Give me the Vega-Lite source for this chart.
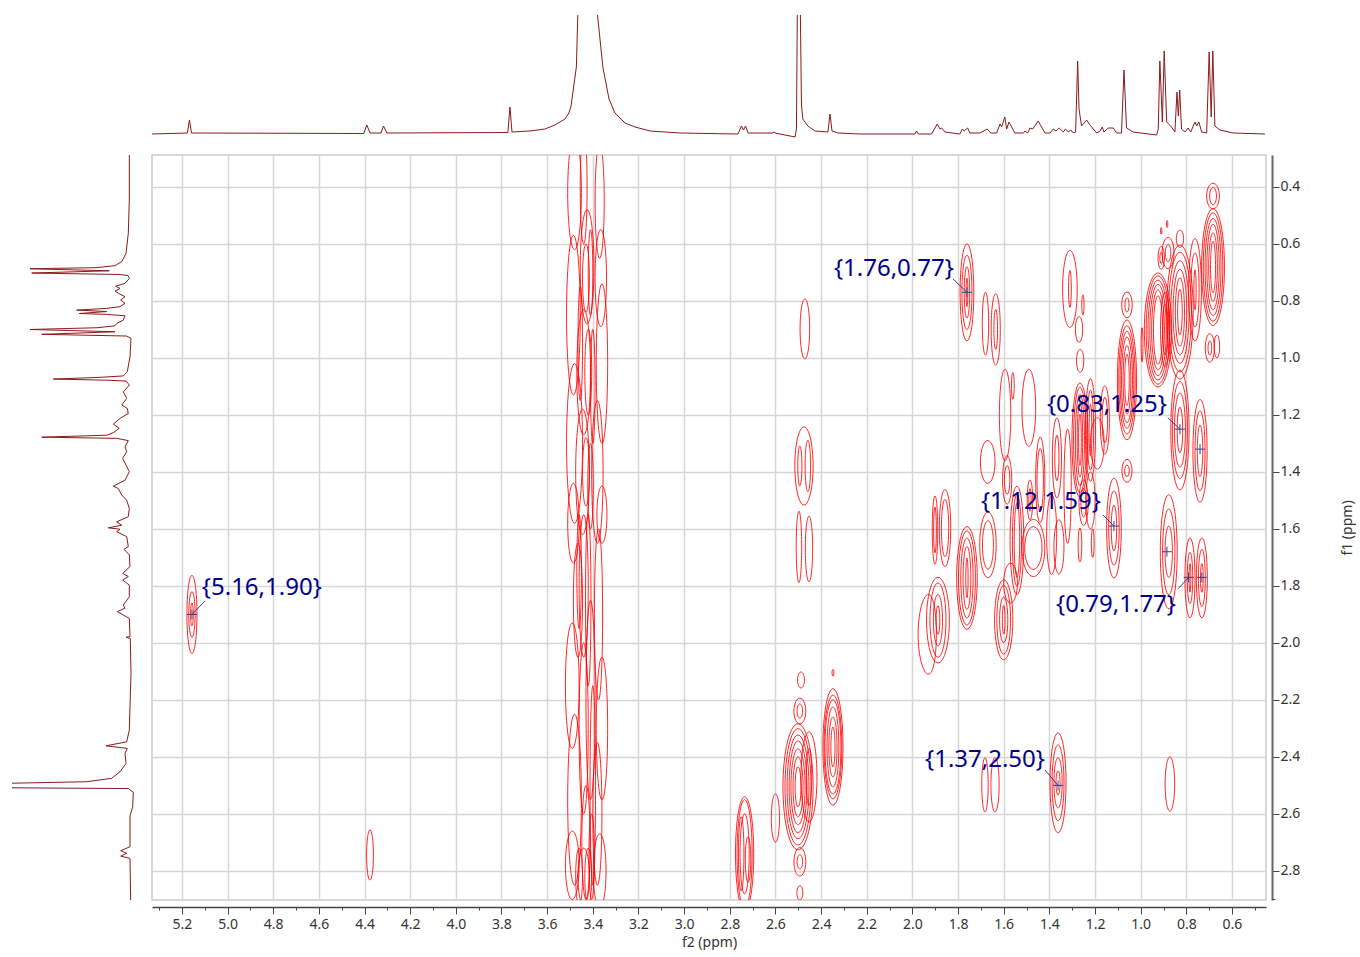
{"$schema":"https://vega.github.io/schema/vega-lite/v6.json","padding":{"left":12,"top":15,"right":0,"bottom":0},"background":"white","config":{"view":{"stroke":null},"font":"Noto Sans"},"spacing":0,"bounds":"flush","datasets":{"contours":[
{"g":1,"f2":5.156,"f1":1.763},{"g":1,"f2":5.134,"f1":1.9},{"g":1,"f2":5.156,"f1":2.037},{"g":1,"f2":5.178,"f1":1.9},
{"g":2,"f2":5.156,"f1":1.82},{"g":2,"f2":5.142,"f1":1.9},{"g":2,"f2":5.156,"f1":1.98},{"g":2,"f2":5.17,"f1":1.9},
{"g":3,"f2":5.156,"f1":1.86},{"g":3,"f2":5.15,"f1":1.9},{"g":3,"f2":5.156,"f1":1.94},{"g":3,"f2":5.162,"f1":1.9},
{"g":4,"f2":4.376,"f1":2.656},{"g":4,"f2":4.361,"f1":2.744},{"g":4,"f2":4.376,"f1":2.832},{"g":4,"f2":4.391,"f1":2.744},
{"g":5,"f2":2.471,"f1":0.793},{"g":5,"f2":2.45,"f1":0.898},{"g":5,"f2":2.471,"f1":1.003},{"g":5,"f2":2.492,"f1":0.898},
{"g":6,"f2":2.475,"f1":1.242},{"g":6,"f2":2.435,"f1":1.379},{"g":6,"f2":2.475,"f1":1.516},{"g":6,"f2":2.515,"f1":1.379},
{"g":7,"f2":2.493,"f1":1.309},{"g":7,"f2":2.484,"f1":1.379},{"g":7,"f2":2.493,"f1":1.449},{"g":7,"f2":2.502,"f1":1.379},
{"g":8,"f2":2.458,"f1":1.289},{"g":8,"f2":2.446,"f1":1.379},{"g":8,"f2":2.458,"f1":1.469},{"g":8,"f2":2.47,"f1":1.379},
{"g":9,"f2":2.497,"f1":1.538},{"g":9,"f2":2.485,"f1":1.663},{"g":9,"f2":2.497,"f1":1.788},{"g":9,"f2":2.509,"f1":1.663},
{"g":10,"f2":2.453,"f1":1.555},{"g":10,"f2":2.437,"f1":1.67},{"g":10,"f2":2.453,"f1":1.785},{"g":10,"f2":2.469,"f1":1.67},
{"g":11,"f2":2.488,"f1":2.102},{"g":11,"f2":2.473,"f1":2.13},{"g":11,"f2":2.488,"f1":2.158},{"g":11,"f2":2.503,"f1":2.13},
{"g":12,"f2":2.493,"f1":2.194},{"g":12,"f2":2.467,"f1":2.239},{"g":12,"f2":2.493,"f1":2.284},{"g":12,"f2":2.519,"f1":2.239},
{"g":13,"f2":2.493,"f1":2.214},{"g":13,"f2":2.481,"f1":2.239},{"g":13,"f2":2.493,"f1":2.264},{"g":13,"f2":2.505,"f1":2.239},
{"g":14,"f2":2.501,"f1":2.284},{"g":14,"f2":2.435,"f1":2.505},{"g":14,"f2":2.501,"f1":2.726},{"g":14,"f2":2.567,"f1":2.505},
{"g":15,"f2":2.501,"f1":2.301},{"g":15,"f2":2.444,"f1":2.505},{"g":15,"f2":2.501,"f1":2.709},{"g":15,"f2":2.558,"f1":2.505},
{"g":16,"f2":2.501,"f1":2.323},{"g":16,"f2":2.453,"f1":2.505},{"g":16,"f2":2.501,"f1":2.687},{"g":16,"f2":2.549,"f1":2.505},
{"g":17,"f2":2.501,"f1":2.344},{"g":17,"f2":2.462,"f1":2.505},{"g":17,"f2":2.501,"f1":2.666},{"g":17,"f2":2.54,"f1":2.505},
{"g":18,"f2":2.501,"f1":2.372},{"g":18,"f2":2.47,"f1":2.505},{"g":18,"f2":2.501,"f1":2.638},{"g":18,"f2":2.532,"f1":2.505},
{"g":19,"f2":2.501,"f1":2.4},{"g":19,"f2":2.479,"f1":2.505},{"g":19,"f2":2.501,"f1":2.61},{"g":19,"f2":2.523,"f1":2.505},
{"g":20,"f2":2.501,"f1":2.435},{"g":20,"f2":2.488,"f1":2.505},{"g":20,"f2":2.501,"f1":2.575},{"g":20,"f2":2.514,"f1":2.505},
{"g":21,"f2":2.453,"f1":2.312},{"g":21,"f2":2.418,"f1":2.47},{"g":21,"f2":2.453,"f1":2.628},{"g":21,"f2":2.488,"f1":2.47},
{"g":22,"f2":2.453,"f1":2.37},{"g":22,"f2":2.441,"f1":2.47},{"g":22,"f2":2.453,"f1":2.57},{"g":22,"f2":2.465,"f1":2.47},
{"g":23,"f2":2.493,"f1":2.718},{"g":23,"f2":2.467,"f1":2.768},{"g":23,"f2":2.493,"f1":2.818},{"g":23,"f2":2.519,"f1":2.768},
{"g":24,"f2":2.493,"f1":2.743},{"g":24,"f2":2.481,"f1":2.768},{"g":24,"f2":2.493,"f1":2.793},{"g":24,"f2":2.505,"f1":2.768},
{"g":25,"f2":2.493,"f1":2.852},{"g":25,"f2":2.48,"f1":2.877},{"g":25,"f2":2.493,"f1":2.902},{"g":25,"f2":2.506,"f1":2.877},
{"g":26,"f2":2.348,"f1":2.161},{"g":26,"f2":2.304,"f1":2.365},{"g":26,"f2":2.348,"f1":2.569},{"g":26,"f2":2.392,"f1":2.365},
{"g":27,"f2":2.348,"f1":2.183},{"g":27,"f2":2.309,"f1":2.365},{"g":27,"f2":2.348,"f1":2.547},{"g":27,"f2":2.387,"f1":2.365},
{"g":28,"f2":2.348,"f1":2.2},{"g":28,"f2":2.313,"f1":2.365},{"g":28,"f2":2.348,"f1":2.53},{"g":28,"f2":2.383,"f1":2.365},
{"g":29,"f2":2.348,"f1":2.225},{"g":29,"f2":2.322,"f1":2.365},{"g":29,"f2":2.348,"f1":2.505},{"g":29,"f2":2.374,"f1":2.365},
{"g":30,"f2":2.348,"f1":2.26},{"g":30,"f2":2.33,"f1":2.365},{"g":30,"f2":2.348,"f1":2.47},{"g":30,"f2":2.366,"f1":2.365},
{"g":31,"f2":2.348,"f1":2.295},{"g":31,"f2":2.339,"f1":2.365},{"g":31,"f2":2.348,"f1":2.435},{"g":31,"f2":2.357,"f1":2.365},
{"g":32,"f2":2.348,"f1":2.093},{"g":32,"f2":2.344,"f1":2.105},{"g":32,"f2":2.348,"f1":2.117},{"g":32,"f2":2.352,"f1":2.105},
{"g":33,"f2":2.6,"f1":2.529},{"g":33,"f2":2.582,"f1":2.614},{"g":33,"f2":2.6,"f1":2.699},{"g":33,"f2":2.618,"f1":2.614},
{"g":34,"f2":2.735,"f1":2.54},{"g":34,"f2":2.695,"f1":2.74},{"g":34,"f2":2.735,"f1":2.94},{"g":34,"f2":2.775,"f1":2.74},
{"g":35,"f2":2.735,"f1":2.55},{"g":35,"f2":2.702,"f1":2.74},{"g":35,"f2":2.735,"f1":2.93},{"g":35,"f2":2.768,"f1":2.74},
{"g":36,"f2":2.735,"f1":2.6},{"g":36,"f2":2.715,"f1":2.74},{"g":36,"f2":2.735,"f1":2.88},{"g":36,"f2":2.755,"f1":2.74},
{"g":37,"f2":2.72,"f1":2.68},{"g":37,"f2":2.708,"f1":2.76},{"g":37,"f2":2.72,"f1":2.84},{"g":37,"f2":2.732,"f1":2.76},
{"g":38,"f2":2.75,"f1":2.61},{"g":38,"f2":2.738,"f1":2.74},{"g":38,"f2":2.75,"f1":2.87},{"g":38,"f2":2.762,"f1":2.74},
{"g":39,"f2":1.362,"f1":2.316},{"g":39,"f2":1.327,"f1":2.491},{"g":39,"f2":1.362,"f1":2.666},{"g":39,"f2":1.397,"f1":2.491},
{"g":40,"f2":1.362,"f1":2.358},{"g":40,"f2":1.336,"f1":2.491},{"g":40,"f2":1.362,"f1":2.624},{"g":40,"f2":1.388,"f1":2.491},
{"g":41,"f2":1.362,"f1":2.403},{"g":41,"f2":1.344,"f1":2.491},{"g":41,"f2":1.362,"f1":2.579},{"g":41,"f2":1.38,"f1":2.491},
{"g":42,"f2":1.362,"f1":2.449},{"g":42,"f2":1.353,"f1":2.491},{"g":42,"f2":1.362,"f1":2.533},{"g":42,"f2":1.371,"f1":2.491},
{"g":43,"f2":1.682,"f1":2.403},{"g":43,"f2":1.668,"f1":2.498},{"g":43,"f2":1.682,"f1":2.593},{"g":43,"f2":1.696,"f1":2.498},
{"g":44,"f2":1.638,"f1":2.403},{"g":44,"f2":1.62,"f1":2.498},{"g":44,"f2":1.638,"f1":2.593},{"g":44,"f2":1.656,"f1":2.498},
{"g":45,"f2":0.872,"f1":2.4},{"g":45,"f2":0.851,"f1":2.495},{"g":45,"f2":0.872,"f1":2.59},{"g":45,"f2":0.893,"f1":2.495},
{"g":46,"f2":0.877,"f1":1.48},{"g":46,"f2":0.84,"f1":1.68},{"g":46,"f2":0.877,"f1":1.88},{"g":46,"f2":0.914,"f1":1.68},
{"g":47,"f2":0.877,"f1":1.53},{"g":47,"f2":0.85,"f1":1.68},{"g":47,"f2":0.877,"f1":1.83},{"g":47,"f2":0.904,"f1":1.68},
{"g":48,"f2":0.877,"f1":1.59},{"g":48,"f2":0.861,"f1":1.68},{"g":48,"f2":0.877,"f1":1.77},{"g":48,"f2":0.893,"f1":1.68},
{"g":49,"f2":0.784,"f1":1.632},{"g":49,"f2":0.762,"f1":1.772},{"g":49,"f2":0.784,"f1":1.912},{"g":49,"f2":0.806,"f1":1.772},
{"g":50,"f2":0.784,"f1":1.682},{"g":50,"f2":0.772,"f1":1.772},{"g":50,"f2":0.784,"f1":1.862},{"g":50,"f2":0.796,"f1":1.772},
{"g":51,"f2":0.784,"f1":1.722},{"g":51,"f2":0.78,"f1":1.772},{"g":51,"f2":0.784,"f1":1.822},{"g":51,"f2":0.788,"f1":1.772},
{"g":52,"f2":0.732,"f1":1.632},{"g":52,"f2":0.708,"f1":1.772},{"g":52,"f2":0.732,"f1":1.912},{"g":52,"f2":0.756,"f1":1.772},
{"g":53,"f2":0.732,"f1":1.672},{"g":53,"f2":0.717,"f1":1.772},{"g":53,"f2":0.732,"f1":1.872},{"g":53,"f2":0.747,"f1":1.772},
{"g":54,"f2":0.732,"f1":1.722},{"g":54,"f2":0.726,"f1":1.772},{"g":54,"f2":0.732,"f1":1.822},{"g":54,"f2":0.738,"f1":1.772},
{"g":55,"f2":0.74,"f1":1.146},{"g":55,"f2":0.709,"f1":1.326},{"g":55,"f2":0.74,"f1":1.506},{"g":55,"f2":0.771,"f1":1.326},
{"g":56,"f2":0.74,"f1":1.186},{"g":56,"f2":0.718,"f1":1.326},{"g":56,"f2":0.74,"f1":1.466},{"g":56,"f2":0.762,"f1":1.326},
{"g":57,"f2":0.74,"f1":1.236},{"g":57,"f2":0.728,"f1":1.326},{"g":57,"f2":0.74,"f1":1.416},{"g":57,"f2":0.752,"f1":1.326},
{"g":58,"f2":0.828,"f1":1.043},{"g":58,"f2":0.788,"f1":1.253},{"g":58,"f2":0.828,"f1":1.463},{"g":58,"f2":0.868,"f1":1.253},
{"g":59,"f2":0.828,"f1":1.083},{"g":59,"f2":0.795,"f1":1.253},{"g":59,"f2":0.828,"f1":1.423},{"g":59,"f2":0.861,"f1":1.253},
{"g":60,"f2":0.828,"f1":1.123},{"g":60,"f2":0.804,"f1":1.253},{"g":60,"f2":0.828,"f1":1.383},{"g":60,"f2":0.852,"f1":1.253},
{"g":61,"f2":0.828,"f1":1.173},{"g":61,"f2":0.816,"f1":1.253},{"g":61,"f2":0.828,"f1":1.333},{"g":61,"f2":0.84,"f1":1.253},
{"g":62,"f2":1.117,"f1":1.422},{"g":62,"f2":1.085,"f1":1.597},{"g":62,"f2":1.117,"f1":1.772},{"g":62,"f2":1.149,"f1":1.597},
{"g":63,"f2":1.117,"f1":1.467},{"g":63,"f2":1.094,"f1":1.597},{"g":63,"f2":1.117,"f1":1.727},{"g":63,"f2":1.14,"f1":1.597},
{"g":64,"f2":1.117,"f1":1.517},{"g":64,"f2":1.105,"f1":1.597},{"g":64,"f2":1.117,"f1":1.677},{"g":64,"f2":1.129,"f1":1.597},
{"g":66,"f2":1.06,"f1":0.867},{"g":66,"f2":1.018,"f1":1.077},{"g":66,"f2":1.06,"f1":1.287},{"g":66,"f2":1.102,"f1":1.077},
{"g":67,"f2":1.06,"f1":0.887},{"g":67,"f2":1.024,"f1":1.077},{"g":67,"f2":1.06,"f1":1.267},{"g":67,"f2":1.096,"f1":1.077},
{"g":68,"f2":1.06,"f1":0.907},{"g":68,"f2":1.03,"f1":1.077},{"g":68,"f2":1.06,"f1":1.247},{"g":68,"f2":1.09,"f1":1.077},
{"g":69,"f2":1.06,"f1":0.927},{"g":69,"f2":1.036,"f1":1.077},{"g":69,"f2":1.06,"f1":1.227},{"g":69,"f2":1.084,"f1":1.077},
{"g":70,"f2":1.06,"f1":0.957},{"g":70,"f2":1.043,"f1":1.077},{"g":70,"f2":1.06,"f1":1.197},{"g":70,"f2":1.077,"f1":1.077},
{"g":71,"f2":1.06,"f1":0.987},{"g":71,"f2":1.05,"f1":1.077},{"g":71,"f2":1.06,"f1":1.167},{"g":71,"f2":1.07,"f1":1.077},
{"g":73,"f2":1.06,"f1":1.356},{"g":73,"f2":1.038,"f1":1.396},{"g":73,"f2":1.06,"f1":1.436},{"g":73,"f2":1.082,"f1":1.396},
{"g":74,"f2":1.06,"f1":1.376},{"g":74,"f2":1.05,"f1":1.396},{"g":74,"f2":1.06,"f1":1.416},{"g":74,"f2":1.07,"f1":1.396},
{"g":75,"f2":1.06,"f1":0.769},{"g":75,"f2":1.037,"f1":0.814},{"g":75,"f2":1.06,"f1":0.859},{"g":75,"f2":1.083,"f1":0.814},
{"g":76,"f2":1.06,"f1":0.789},{"g":76,"f2":1.051,"f1":0.814},{"g":76,"f2":1.06,"f1":0.839},{"g":76,"f2":1.069,"f1":0.814},
{"g":77,"f2":0.994,"f1":0.894},{"g":77,"f2":0.99,"f1":0.954},{"g":77,"f2":0.994,"f1":1.014},{"g":77,"f2":0.998,"f1":0.954},
{"g":78,"f2":1.31,"f1":0.623},{"g":78,"f2":1.278,"f1":0.758},{"g":78,"f2":1.31,"f1":0.893},{"g":78,"f2":1.342,"f1":0.758},
{"g":79,"f2":1.31,"f1":0.693},{"g":79,"f2":1.304,"f1":0.758},{"g":79,"f2":1.31,"f1":0.823},{"g":79,"f2":1.316,"f1":0.758},
{"g":80,"f2":1.253,"f1":0.779},{"g":80,"f2":1.248,"f1":0.814},{"g":80,"f2":1.253,"f1":0.849},{"g":80,"f2":1.258,"f1":0.814},
{"g":81,"f2":1.27,"f1":0.855},{"g":81,"f2":1.254,"f1":0.9},{"g":81,"f2":1.27,"f1":0.945},{"g":81,"f2":1.286,"f1":0.9},
{"g":82,"f2":1.265,"f1":0.97},{"g":82,"f2":1.249,"f1":1.01},{"g":82,"f2":1.265,"f1":1.05},{"g":82,"f2":1.281,"f1":1.01},
{"g":83,"f2":0.924,"f1":0.702},{"g":83,"f2":0.864,"f1":0.902},{"g":83,"f2":0.924,"f1":1.102},{"g":83,"f2":0.984,"f1":0.902},
{"g":84,"f2":0.924,"f1":0.712},{"g":84,"f2":0.872,"f1":0.902},{"g":84,"f2":0.924,"f1":1.092},{"g":84,"f2":0.976,"f1":0.902},
{"g":85,"f2":0.924,"f1":0.727},{"g":85,"f2":0.88,"f1":0.902},{"g":85,"f2":0.924,"f1":1.077},{"g":85,"f2":0.968,"f1":0.902},
{"g":86,"f2":0.924,"f1":0.742},{"g":86,"f2":0.888,"f1":0.902},{"g":86,"f2":0.924,"f1":1.062},{"g":86,"f2":0.96,"f1":0.902},
{"g":87,"f2":0.924,"f1":0.762},{"g":87,"f2":0.896,"f1":0.902},{"g":87,"f2":0.924,"f1":1.042},{"g":87,"f2":0.952,"f1":0.902},
{"g":88,"f2":0.924,"f1":0.782},{"g":88,"f2":0.904,"f1":0.902},{"g":88,"f2":0.924,"f1":1.022},{"g":88,"f2":0.944,"f1":0.902},
{"g":89,"f2":0.893,"f1":0.77},{"g":89,"f2":0.873,"f1":0.9},{"g":89,"f2":0.893,"f1":1.03},{"g":89,"f2":0.913,"f1":0.9},
{"g":90,"f2":0.893,"f1":0.81},{"g":90,"f2":0.883,"f1":0.9},{"g":90,"f2":0.893,"f1":0.99},{"g":90,"f2":0.903,"f1":0.9},
{"g":91,"f2":0.88,"f1":0.577},{"g":91,"f2":0.854,"f1":0.632},{"g":91,"f2":0.88,"f1":0.687},{"g":91,"f2":0.906,"f1":0.632},
{"g":92,"f2":0.88,"f1":0.602},{"g":92,"f2":0.868,"f1":0.632},{"g":92,"f2":0.88,"f1":0.662},{"g":92,"f2":0.892,"f1":0.632},
{"g":93,"f2":0.91,"f1":0.609},{"g":93,"f2":0.896,"f1":0.649},{"g":93,"f2":0.91,"f1":0.689},{"g":93,"f2":0.924,"f1":0.649},
{"g":94,"f2":0.91,"f1":0.629},{"g":94,"f2":0.904,"f1":0.649},{"g":94,"f2":0.91,"f1":0.669},{"g":94,"f2":0.916,"f1":0.649},
{"g":95,"f2":0.828,"f1":0.604},{"g":95,"f2":0.77,"f1":0.839},{"g":95,"f2":0.828,"f1":1.074},{"g":95,"f2":0.886,"f1":0.839},
{"g":96,"f2":0.828,"f1":0.629},{"g":96,"f2":0.778,"f1":0.839},{"g":96,"f2":0.828,"f1":1.049},{"g":96,"f2":0.878,"f1":0.839},
{"g":97,"f2":0.828,"f1":0.659},{"g":97,"f2":0.788,"f1":0.839},{"g":97,"f2":0.828,"f1":1.019},{"g":97,"f2":0.868,"f1":0.839},
{"g":98,"f2":0.828,"f1":0.689},{"g":98,"f2":0.798,"f1":0.839},{"g":98,"f2":0.828,"f1":0.989},{"g":98,"f2":0.858,"f1":0.839},
{"g":99,"f2":0.828,"f1":0.719},{"g":99,"f2":0.808,"f1":0.839},{"g":99,"f2":0.828,"f1":0.959},{"g":99,"f2":0.848,"f1":0.839},
{"g":100,"f2":0.828,"f1":0.759},{"g":100,"f2":0.818,"f1":0.839},{"g":100,"f2":0.828,"f1":0.919},{"g":100,"f2":0.838,"f1":0.839},
{"g":101,"f2":0.828,"f1":0.552},{"g":101,"f2":0.812,"f1":0.582},{"g":101,"f2":0.828,"f1":0.612},{"g":101,"f2":0.844,"f1":0.582},
{"g":102,"f2":0.91,"f1":0.542},{"g":102,"f2":0.907,"f1":0.554},{"g":102,"f2":0.91,"f1":0.566},{"g":102,"f2":0.913,"f1":0.554},
{"g":103,"f2":0.884,"f1":0.518},{"g":103,"f2":0.881,"f1":0.53},{"g":103,"f2":0.884,"f1":0.542},{"g":103,"f2":0.887,"f1":0.53},
{"g":104,"f2":0.762,"f1":0.581},{"g":104,"f2":0.734,"f1":0.761},{"g":104,"f2":0.762,"f1":0.941},{"g":104,"f2":0.79,"f1":0.761},
{"g":105,"f2":0.762,"f1":0.631},{"g":105,"f2":0.744,"f1":0.761},{"g":105,"f2":0.762,"f1":0.891},{"g":105,"f2":0.78,"f1":0.761},
{"g":106,"f2":0.762,"f1":0.691},{"g":106,"f2":0.757,"f1":0.761},{"g":106,"f2":0.762,"f1":0.831},{"g":106,"f2":0.767,"f1":0.761},
{"g":107,"f2":0.683,"f1":0.476},{"g":107,"f2":0.633,"f1":0.681},{"g":107,"f2":0.683,"f1":0.886},{"g":107,"f2":0.733,"f1":0.681},
{"g":108,"f2":0.683,"f1":0.491},{"g":108,"f2":0.64,"f1":0.681},{"g":108,"f2":0.683,"f1":0.871},{"g":108,"f2":0.726,"f1":0.681},
{"g":109,"f2":0.683,"f1":0.511},{"g":109,"f2":0.648,"f1":0.681},{"g":109,"f2":0.683,"f1":0.851},{"g":109,"f2":0.718,"f1":0.681},
{"g":110,"f2":0.683,"f1":0.531},{"g":110,"f2":0.656,"f1":0.681},{"g":110,"f2":0.683,"f1":0.831},{"g":110,"f2":0.71,"f1":0.681},
{"g":111,"f2":0.683,"f1":0.561},{"g":111,"f2":0.664,"f1":0.681},{"g":111,"f2":0.683,"f1":0.801},{"g":111,"f2":0.702,"f1":0.681},
{"g":112,"f2":0.683,"f1":0.591},{"g":112,"f2":0.672,"f1":0.681},{"g":112,"f2":0.683,"f1":0.771},{"g":112,"f2":0.694,"f1":0.681},
{"g":113,"f2":0.683,"f1":0.387},{"g":113,"f2":0.655,"f1":0.432},{"g":113,"f2":0.683,"f1":0.477},{"g":113,"f2":0.711,"f1":0.432},
{"g":114,"f2":0.683,"f1":0.402},{"g":114,"f2":0.668,"f1":0.432},{"g":114,"f2":0.683,"f1":0.462},{"g":114,"f2":0.698,"f1":0.432},
{"g":115,"f2":0.697,"f1":0.915},{"g":115,"f2":0.677,"f1":0.965},{"g":115,"f2":0.697,"f1":1.015},{"g":115,"f2":0.717,"f1":0.965},
{"g":116,"f2":0.697,"f1":0.94},{"g":116,"f2":0.689,"f1":0.965},{"g":116,"f2":0.697,"f1":0.99},{"g":116,"f2":0.705,"f1":0.965},
{"g":117,"f2":0.666,"f1":0.92},{"g":117,"f2":0.654,"f1":0.96},{"g":117,"f2":0.666,"f1":1.0},{"g":117,"f2":0.678,"f1":0.96},
{"g":118,"f2":1.266,"f1":1.088},{"g":118,"f2":1.231,"f1":1.288},{"g":118,"f2":1.266,"f1":1.488},{"g":118,"f2":1.301,"f1":1.288},
{"g":119,"f2":1.266,"f1":1.103},{"g":119,"f2":1.238,"f1":1.288},{"g":119,"f2":1.266,"f1":1.473},{"g":119,"f2":1.294,"f1":1.288},
{"g":120,"f2":1.266,"f1":1.128},{"g":120,"f2":1.246,"f1":1.288},{"g":120,"f2":1.266,"f1":1.448},{"g":120,"f2":1.286,"f1":1.288},
{"g":121,"f2":1.266,"f1":1.158},{"g":121,"f2":1.254,"f1":1.288},{"g":121,"f2":1.266,"f1":1.418},{"g":121,"f2":1.278,"f1":1.288},
{"g":122,"f2":1.266,"f1":1.198},{"g":122,"f2":1.26,"f1":1.288},{"g":122,"f2":1.266,"f1":1.378},{"g":122,"f2":1.272,"f1":1.288},
{"g":123,"f2":1.22,"f1":1.073},{"g":123,"f2":1.198,"f1":1.253},{"g":123,"f2":1.22,"f1":1.433},{"g":123,"f2":1.242,"f1":1.253},
{"g":124,"f2":1.22,"f1":1.113},{"g":124,"f2":1.206,"f1":1.253},{"g":124,"f2":1.22,"f1":1.393},{"g":124,"f2":1.234,"f1":1.253},
{"g":125,"f2":1.22,"f1":1.163},{"g":125,"f2":1.214,"f1":1.253},{"g":125,"f2":1.22,"f1":1.343},{"g":125,"f2":1.226,"f1":1.253},
{"g":126,"f2":1.157,"f1":1.098},{"g":126,"f2":1.137,"f1":1.218},{"g":126,"f2":1.157,"f1":1.338},{"g":126,"f2":1.177,"f1":1.218},
{"g":127,"f2":1.157,"f1":1.138},{"g":127,"f2":1.145,"f1":1.218},{"g":127,"f2":1.157,"f1":1.298},{"g":127,"f2":1.169,"f1":1.218},
{"g":128,"f2":1.367,"f1":1.211},{"g":128,"f2":1.347,"f1":1.351},{"g":128,"f2":1.367,"f1":1.491},{"g":128,"f2":1.387,"f1":1.351},
{"g":129,"f2":1.367,"f1":1.271},{"g":129,"f2":1.358,"f1":1.351},{"g":129,"f2":1.367,"f1":1.431},{"g":129,"f2":1.376,"f1":1.351},
{"g":130,"f2":1.44,"f1":1.278},{"g":130,"f2":1.42,"f1":1.428},{"g":130,"f2":1.44,"f1":1.578},{"g":130,"f2":1.46,"f1":1.428},
{"g":131,"f2":1.44,"f1":1.318},{"g":131,"f2":1.426,"f1":1.428},{"g":131,"f2":1.44,"f1":1.538},{"g":131,"f2":1.454,"f1":1.428},
{"g":132,"f2":1.485,"f1":1.428},{"g":132,"f2":1.473,"f1":1.498},{"g":132,"f2":1.485,"f1":1.568},{"g":132,"f2":1.497,"f1":1.498},
{"g":133,"f2":1.485,"f1":1.458},{"g":133,"f2":1.48,"f1":1.498},{"g":133,"f2":1.485,"f1":1.538},{"g":133,"f2":1.49,"f1":1.498},
{"g":134,"f2":1.594,"f1":1.04},{"g":134,"f2":1.569,"f1":1.2},{"g":134,"f2":1.594,"f1":1.36},{"g":134,"f2":1.619,"f1":1.2},
{"g":135,"f2":1.56,"f1":1.051},{"g":135,"f2":1.554,"f1":1.098},{"g":135,"f2":1.56,"f1":1.145},{"g":135,"f2":1.566,"f1":1.098},
{"g":136,"f2":1.49,"f1":1.04},{"g":136,"f2":1.46,"f1":1.175},{"g":136,"f2":1.49,"f1":1.31},{"g":136,"f2":1.52,"f1":1.175},
{"g":137,"f2":1.67,"f1":1.29},{"g":137,"f2":1.638,"f1":1.365},{"g":137,"f2":1.67,"f1":1.44},{"g":137,"f2":1.702,"f1":1.365},
{"g":138,"f2":1.585,"f1":1.343},{"g":138,"f2":1.565,"f1":1.428},{"g":138,"f2":1.585,"f1":1.513},{"g":138,"f2":1.605,"f1":1.428},
{"g":139,"f2":1.585,"f1":1.378},{"g":139,"f2":1.573,"f1":1.428},{"g":139,"f2":1.585,"f1":1.478},{"g":139,"f2":1.597,"f1":1.428},
{"g":140,"f2":1.669,"f1":1.541},{"g":140,"f2":1.633,"f1":1.656},{"g":140,"f2":1.669,"f1":1.771},{"g":140,"f2":1.705,"f1":1.656},
{"g":141,"f2":1.669,"f1":1.571},{"g":141,"f2":1.645,"f1":1.656},{"g":141,"f2":1.669,"f1":1.741},{"g":141,"f2":1.693,"f1":1.656},
{"g":142,"f2":1.542,"f1":1.45},{"g":142,"f2":1.512,"f1":1.64},{"g":142,"f2":1.542,"f1":1.83},{"g":142,"f2":1.572,"f1":1.64},
{"g":143,"f2":1.542,"f1":1.48},{"g":143,"f2":1.522,"f1":1.64},{"g":143,"f2":1.542,"f1":1.8},{"g":143,"f2":1.562,"f1":1.64},
{"g":144,"f2":1.542,"f1":1.51},{"g":144,"f2":1.53,"f1":1.64},{"g":144,"f2":1.542,"f1":1.77},{"g":144,"f2":1.554,"f1":1.64},
{"g":145,"f2":1.47,"f1":1.567},{"g":145,"f2":1.42,"f1":1.667},{"g":145,"f2":1.47,"f1":1.767},{"g":145,"f2":1.52,"f1":1.667},
{"g":146,"f2":1.47,"f1":1.592},{"g":146,"f2":1.432,"f1":1.667},{"g":146,"f2":1.47,"f1":1.742},{"g":146,"f2":1.508,"f1":1.667},
{"g":147,"f2":1.358,"f1":1.568},{"g":147,"f2":1.336,"f1":1.663},{"g":147,"f2":1.358,"f1":1.758},{"g":147,"f2":1.38,"f1":1.663},
{"g":148,"f2":1.266,"f1":1.596},{"g":148,"f2":1.258,"f1":1.656},{"g":148,"f2":1.266,"f1":1.716},{"g":148,"f2":1.274,"f1":1.656},
{"g":149,"f2":1.21,"f1":1.6},{"g":149,"f2":1.204,"f1":1.65},{"g":149,"f2":1.21,"f1":1.7},{"g":149,"f2":1.216,"f1":1.65},
{"g":150,"f2":1.25,"f1":1.428},{"g":150,"f2":1.23,"f1":1.508},{"g":150,"f2":1.25,"f1":1.588},{"g":150,"f2":1.27,"f1":1.508},
{"g":151,"f2":1.25,"f1":1.458},{"g":151,"f2":1.238,"f1":1.508},{"g":151,"f2":1.25,"f1":1.558},{"g":151,"f2":1.262,"f1":1.508},
{"g":152,"f2":1.901,"f1":1.484},{"g":152,"f2":1.889,"f1":1.604},{"g":152,"f2":1.901,"f1":1.724},{"g":152,"f2":1.913,"f1":1.604},
{"g":153,"f2":1.901,"f1":1.524},{"g":153,"f2":1.895,"f1":1.604},{"g":153,"f2":1.901,"f1":1.684},{"g":153,"f2":1.907,"f1":1.604},
{"g":154,"f2":1.857,"f1":1.462},{"g":154,"f2":1.832,"f1":1.597},{"g":154,"f2":1.857,"f1":1.732},{"g":154,"f2":1.882,"f1":1.597},
{"g":155,"f2":1.857,"f1":1.497},{"g":155,"f2":1.841,"f1":1.597},{"g":155,"f2":1.857,"f1":1.697},{"g":155,"f2":1.873,"f1":1.597},
{"g":156,"f2":1.761,"f1":1.592},{"g":156,"f2":1.716,"f1":1.772},{"g":156,"f2":1.761,"f1":1.952},{"g":156,"f2":1.806,"f1":1.772},
{"g":157,"f2":1.761,"f1":1.607},{"g":157,"f2":1.724,"f1":1.772},{"g":157,"f2":1.761,"f1":1.937},{"g":157,"f2":1.798,"f1":1.772},
{"g":158,"f2":1.761,"f1":1.632},{"g":158,"f2":1.734,"f1":1.772},{"g":158,"f2":1.761,"f1":1.912},{"g":158,"f2":1.788,"f1":1.772},
{"g":159,"f2":1.761,"f1":1.662},{"g":159,"f2":1.744,"f1":1.772},{"g":159,"f2":1.761,"f1":1.882},{"g":159,"f2":1.778,"f1":1.772},
{"g":160,"f2":1.761,"f1":1.702},{"g":160,"f2":1.756,"f1":1.772},{"g":160,"f2":1.761,"f1":1.842},{"g":160,"f2":1.766,"f1":1.772},
{"g":161,"f2":1.93,"f1":1.83},{"g":161,"f2":1.895,"f1":1.97},{"g":161,"f2":1.93,"f1":2.11},{"g":161,"f2":1.975,"f1":1.97},
{"g":162,"f2":1.888,"f1":1.77},{"g":162,"f2":1.838,"f1":1.92},{"g":162,"f2":1.888,"f1":2.07},{"g":162,"f2":1.938,"f1":1.92},
{"g":163,"f2":1.888,"f1":1.79},{"g":163,"f2":1.853,"f1":1.92},{"g":163,"f2":1.888,"f1":2.05},{"g":163,"f2":1.923,"f1":1.92},
{"g":164,"f2":1.888,"f1":1.83},{"g":164,"f2":1.868,"f1":1.92},{"g":164,"f2":1.888,"f1":2.01},{"g":164,"f2":1.908,"f1":1.92},
{"g":165,"f2":1.888,"f1":1.87},{"g":165,"f2":1.88,"f1":1.92},{"g":165,"f2":1.888,"f1":1.97},{"g":165,"f2":1.896,"f1":1.92},
{"g":166,"f2":1.6,"f1":1.779},{"g":166,"f2":1.56,"f1":1.919},{"g":166,"f2":1.6,"f1":2.059},{"g":166,"f2":1.64,"f1":1.919},
{"g":167,"f2":1.6,"f1":1.799},{"g":167,"f2":1.57,"f1":1.919},{"g":167,"f2":1.6,"f1":2.039},{"g":167,"f2":1.63,"f1":1.919},
{"g":168,"f2":1.6,"f1":1.839},{"g":168,"f2":1.582,"f1":1.919},{"g":168,"f2":1.6,"f1":1.999},{"g":168,"f2":1.618,"f1":1.919},
{"g":169,"f2":1.6,"f1":1.869},{"g":169,"f2":1.594,"f1":1.919},{"g":169,"f2":1.6,"f1":1.969},{"g":169,"f2":1.606,"f1":1.919},
{"g":170,"f2":1.57,"f1":1.72},{"g":170,"f2":1.54,"f1":1.79},{"g":170,"f2":1.57,"f1":1.86},{"g":170,"f2":1.6,"f1":1.79},
{"g":171,"f2":3.48,"f1":0.22},{"g":171,"f2":3.45,"f1":0.42},{"g":171,"f2":3.48,"f1":0.62},{"g":171,"f2":3.51,"f1":0.42},
{"g":172,"f2":3.485,"f1":0.57},{"g":172,"f2":3.455,"f1":0.85},{"g":172,"f2":3.485,"f1":1.13},{"g":172,"f2":3.515,"f1":0.85},
{"g":173,"f2":3.48,"f1":1.02},{"g":173,"f2":3.445,"f1":1.3},{"g":173,"f2":3.48,"f1":1.58},{"g":173,"f2":3.515,"f1":1.3},
{"g":174,"f2":3.485,"f1":1.44},{"g":174,"f2":3.46,"f1":1.58},{"g":174,"f2":3.485,"f1":1.72},{"g":174,"f2":3.51,"f1":1.58},
{"g":175,"f2":3.465,"f1":1.65},{"g":175,"f2":3.445,"f1":1.85},{"g":175,"f2":3.465,"f1":2.05},{"g":175,"f2":3.485,"f1":1.85},
{"g":176,"f2":3.49,"f1":1.93},{"g":176,"f2":3.46,"f1":2.15},{"g":176,"f2":3.49,"f1":2.37},{"g":176,"f2":3.52,"f1":2.15},
{"g":177,"f2":3.48,"f1":2.25},{"g":177,"f2":3.45,"f1":2.55},{"g":177,"f2":3.48,"f1":2.85},{"g":177,"f2":3.51,"f1":2.55},
{"g":178,"f2":3.49,"f1":2.66},{"g":178,"f2":3.46,"f1":2.78},{"g":178,"f2":3.49,"f1":2.9},{"g":178,"f2":3.52,"f1":2.78},
{"g":179,"f2":3.37,"f1":0.25},{"g":179,"f2":3.35,"f1":0.45},{"g":179,"f2":3.37,"f1":0.65},{"g":179,"f2":3.39,"f1":0.45},
{"g":180,"f2":3.365,"f1":0.55},{"g":180,"f2":3.34,"f1":0.72},{"g":180,"f2":3.365,"f1":0.89},{"g":180,"f2":3.39,"f1":0.72},
{"g":181,"f2":3.36,"f1":0.74},{"g":181,"f2":3.335,"f1":1.02},{"g":181,"f2":3.36,"f1":1.3},{"g":181,"f2":3.385,"f1":1.02},
{"g":182,"f2":3.38,"f1":1.15},{"g":182,"f2":3.355,"f1":1.4},{"g":182,"f2":3.38,"f1":1.65},{"g":182,"f2":3.405,"f1":1.4},
{"g":183,"f2":3.36,"f1":1.45},{"g":183,"f2":3.338,"f1":1.55},{"g":183,"f2":3.36,"f1":1.65},{"g":183,"f2":3.382,"f1":1.55},
{"g":184,"f2":3.375,"f1":1.6},{"g":184,"f2":3.357,"f1":1.9},{"g":184,"f2":3.375,"f1":2.2},{"g":184,"f2":3.393,"f1":1.9},
{"g":185,"f2":3.36,"f1":2.05},{"g":185,"f2":3.335,"f1":2.3},{"g":185,"f2":3.36,"f1":2.55},{"g":185,"f2":3.385,"f1":2.3},
{"g":186,"f2":3.38,"f1":2.35},{"g":186,"f2":3.36,"f1":2.6},{"g":186,"f2":3.38,"f1":2.85},{"g":186,"f2":3.4,"f1":2.6},
{"g":187,"f2":3.37,"f1":2.67},{"g":187,"f2":3.342,"f1":2.8},{"g":187,"f2":3.37,"f1":2.93},{"g":187,"f2":3.398,"f1":2.8},
{"g":188,"f2":3.44,"f1":0.2},{"g":188,"f2":3.425,"f1":0.4},{"g":188,"f2":3.44,"f1":0.6},{"g":188,"f2":3.455,"f1":0.4},
{"g":189,"f2":3.425,"f1":0.48},{"g":189,"f2":3.395,"f1":0.68},{"g":189,"f2":3.425,"f1":0.88},{"g":189,"f2":3.455,"f1":0.68},
{"g":190,"f2":3.43,"f1":0.6},{"g":190,"f2":3.415,"f1":0.72},{"g":190,"f2":3.43,"f1":0.84},{"g":190,"f2":3.445,"f1":0.72},
{"g":191,"f2":3.44,"f1":0.83},{"g":191,"f2":3.41,"f1":1.05},{"g":191,"f2":3.44,"f1":1.27},{"g":191,"f2":3.47,"f1":1.05},
{"g":192,"f2":3.42,"f1":0.9},{"g":192,"f2":3.405,"f1":1.05},{"g":192,"f2":3.42,"f1":1.2},{"g":192,"f2":3.435,"f1":1.05},
{"g":193,"f2":3.445,"f1":1.18},{"g":193,"f2":3.415,"f1":1.4},{"g":193,"f2":3.445,"f1":1.62},{"g":193,"f2":3.475,"f1":1.4},
{"g":194,"f2":3.43,"f1":1.28},{"g":194,"f2":3.415,"f1":1.4},{"g":194,"f2":3.43,"f1":1.52},{"g":194,"f2":3.445,"f1":1.4},
{"g":195,"f2":3.44,"f1":1.55},{"g":195,"f2":3.42,"f1":1.8},{"g":195,"f2":3.44,"f1":2.05},{"g":195,"f2":3.46,"f1":1.8},
{"g":196,"f2":3.42,"f1":1.55},{"g":196,"f2":3.408,"f1":1.85},{"g":196,"f2":3.42,"f1":2.15},{"g":196,"f2":3.432,"f1":1.85},
{"g":197,"f2":3.44,"f1":2.0},{"g":197,"f2":3.42,"f1":2.3},{"g":197,"f2":3.44,"f1":2.6},{"g":197,"f2":3.46,"f1":2.3},
{"g":198,"f2":3.41,"f1":1.85},{"g":198,"f2":3.39,"f1":2.2},{"g":198,"f2":3.41,"f1":2.55},{"g":198,"f2":3.43,"f1":2.2},
{"g":199,"f2":3.4,"f1":2.15},{"g":199,"f2":3.388,"f1":2.5},{"g":199,"f2":3.4,"f1":2.85},{"g":199,"f2":3.412,"f1":2.5},
{"g":200,"f2":3.43,"f1":2.5},{"g":200,"f2":3.412,"f1":2.7},{"g":200,"f2":3.43,"f1":2.9},{"g":200,"f2":3.448,"f1":2.7},
{"g":201,"f2":3.44,"f1":2.72},{"g":201,"f2":3.415,"f1":2.82},{"g":201,"f2":3.44,"f1":2.92},{"g":201,"f2":3.465,"f1":2.82},
{"g":202,"f2":3.42,"f1":2.72},{"g":202,"f2":3.405,"f1":2.82},{"g":202,"f2":3.42,"f1":2.92},{"g":202,"f2":3.435,"f1":2.82},
{"g":203,"f2":3.46,"f1":2.72},{"g":203,"f2":3.445,"f1":2.82},{"g":203,"f2":3.46,"f1":2.92},{"g":203,"f2":3.475,"f1":2.82},
{"g":204,"f2":1.761,"f1":0.6},{"g":204,"f2":1.731,"f1":0.77},{"g":204,"f2":1.761,"f1":0.94},{"g":204,"f2":1.791,"f1":0.77},
{"g":205,"f2":1.761,"f1":0.64},{"g":205,"f2":1.739,"f1":0.77},{"g":205,"f2":1.761,"f1":0.9},{"g":205,"f2":1.783,"f1":0.77},
{"g":206,"f2":1.761,"f1":0.68},{"g":206,"f2":1.749,"f1":0.77},{"g":206,"f2":1.761,"f1":0.86},{"g":206,"f2":1.773,"f1":0.77},
{"g":207,"f2":1.761,"f1":0.72},{"g":207,"f2":1.757,"f1":0.77},{"g":207,"f2":1.761,"f1":0.82},{"g":207,"f2":1.765,"f1":0.77},
{"g":208,"f2":1.68,"f1":0.77},{"g":208,"f2":1.666,"f1":0.88},{"g":208,"f2":1.68,"f1":0.99},{"g":208,"f2":1.694,"f1":0.88},
{"g":209,"f2":1.635,"f1":0.775},{"g":209,"f2":1.615,"f1":0.9},{"g":209,"f2":1.635,"f1":1.025},{"g":209,"f2":1.655,"f1":0.9},
{"g":210,"f2":1.635,"f1":0.83},{"g":210,"f2":1.627,"f1":0.9},{"g":210,"f2":1.635,"f1":0.97},{"g":210,"f2":1.643,"f1":0.9},
{"g":211,"f2":3.41,"f1":0.55},{"g":211,"f2":3.4,"f1":0.7},{"g":211,"f2":3.41,"f1":0.85},{"g":211,"f2":3.42,"f1":0.7},
{"g":212,"f2":3.4,"f1":0.9},{"g":212,"f2":3.39,"f1":1.1},{"g":212,"f2":3.4,"f1":1.3},{"g":212,"f2":3.41,"f1":1.1},
{"g":213,"f2":3.41,"f1":1.3},{"g":213,"f2":3.398,"f1":1.45},{"g":213,"f2":3.41,"f1":1.6},{"g":213,"f2":3.422,"f1":1.45},
{"g":214,"f2":3.455,"f1":0.75},{"g":214,"f2":3.445,"f1":0.95},{"g":214,"f2":3.455,"f1":1.15},{"g":214,"f2":3.465,"f1":0.95},
{"g":215,"f2":3.46,"f1":1.55},{"g":215,"f2":3.45,"f1":1.75},{"g":215,"f2":3.46,"f1":1.95},{"g":215,"f2":3.47,"f1":1.75},
{"g":216,"f2":3.405,"f1":2.6},{"g":216,"f2":3.393,"f1":2.75},{"g":216,"f2":3.405,"f1":2.9},{"g":216,"f2":3.417,"f1":2.75},
{"g":217,"f2":1.19,"f1":1.21},{"g":217,"f2":1.16,"f1":1.3},{"g":217,"f2":1.19,"f1":1.39},{"g":217,"f2":1.22,"f1":1.3},
{"g":218,"f2":1.32,"f1":1.25},{"g":218,"f2":1.304,"f1":1.45},{"g":218,"f2":1.32,"f1":1.65},{"g":218,"f2":1.336,"f1":1.45},
{"g":219,"f2":1.39,"f1":1.48},{"g":219,"f2":1.368,"f1":1.62},{"g":219,"f2":1.39,"f1":1.76},{"g":219,"f2":1.412,"f1":1.62},
{"g":220,"f2":1.22,"f1":1.4},{"g":220,"f2":1.2,"f1":1.5},{"g":220,"f2":1.22,"f1":1.6},{"g":220,"f2":1.24,"f1":1.5}
],"top":[
{"f2":5.331,"h":0},{"f2":5.176,"h":1},{"f2":5.167,"h":14},{"f2":5.158,"h":1},{"f2":4.403,"h":0.5},{"f2":4.39,"h":9},{"f2":4.376,"h":1},{"f2":4.328,"h":1},{"f2":4.317,"h":8},{"f2":4.302,"h":1},{"f2":3.772,"h":1.5},{"f2":3.763,"h":27},{"f2":3.754,"h":2},{"f2":3.675,"h":3},{"f2":3.61,"h":5},{"f2":3.566,"h":9},{"f2":3.522,"h":15},{"f2":3.505,"h":21},{"f2":3.496,"h":27},{"f2":3.472,"h":67},{"f2":3.465,"h":125},{"f2":3.382,"h":125},{"f2":3.356,"h":67},{"f2":3.329,"h":35},{"f2":3.303,"h":21},{"f2":3.259,"h":11},{"f2":3.215,"h":7},{"f2":3.149,"h":3},{"f2":3.018,"h":1},{"f2":2.764,"h":0},{"f2":2.749,"h":8},{"f2":2.74,"h":4},{"f2":2.731,"h":8},{"f2":2.72,"h":1},{"f2":2.615,"h":1},{"f2":2.606,"h":2},{"f2":2.602,"h":1},{"f2":2.536,"h":-2},{"f2":2.514,"h":-3},{"f2":2.508,"h":5},{"f2":2.504,"h":125},{"f2":2.491,"h":125},{"f2":2.486,"h":30},{"f2":2.48,"h":15},{"f2":2.471,"h":12},{"f2":2.458,"h":8},{"f2":2.427,"h":3},{"f2":2.37,"h":2},{"f2":2.361,"h":20},{"f2":2.352,"h":3},{"f2":2.326,"h":1},{"f2":2.23,"h":0},{"f2":2.054,"h":0},{"f2":1.989,"h":0},{"f2":1.982,"h":3},{"f2":1.974,"h":0},{"f2":1.916,"h":0},{"f2":1.891,"h":10},{"f2":1.879,"h":5},{"f2":1.872,"h":6},{"f2":1.857,"h":2},{"f2":1.792,"h":0},{"f2":1.781,"h":5},{"f2":1.773,"h":3},{"f2":1.758,"h":6},{"f2":1.748,"h":1},{"f2":1.704,"h":1},{"f2":1.672,"h":5},{"f2":1.657,"h":1},{"f2":1.631,"h":1},{"f2":1.616,"h":10},{"f2":1.609,"h":7},{"f2":1.595,"h":17},{"f2":1.587,"h":5},{"f2":1.577,"h":12},{"f2":1.551,"h":1},{"f2":1.514,"h":1},{"f2":1.507,"h":3},{"f2":1.495,"h":1},{"f2":1.485,"h":6},{"f2":1.473,"h":5},{"f2":1.449,"h":13},{"f2":1.419,"h":1},{"f2":1.397,"h":1},{"f2":1.383,"h":5},{"f2":1.371,"h":3},{"f2":1.357,"h":6},{"f2":1.339,"h":2},{"f2":1.329,"h":5},{"f2":1.317,"h":2},{"f2":1.307,"h":4},{"f2":1.295,"h":1},{"f2":1.285,"h":2},{"f2":1.276,"h":73},{"f2":1.27,"h":25},{"f2":1.259,"h":8},{"f2":1.237,"h":14},{"f2":1.222,"h":9},{"f2":1.193,"h":1},{"f2":1.178,"h":3},{"f2":1.168,"h":7},{"f2":1.161,"h":2},{"f2":1.142,"h":6},{"f2":1.12,"h":6},{"f2":1.105,"h":1},{"f2":1.084,"h":1},{"f2":1.073,"h":64},{"f2":1.062,"h":6},{"f2":1.033,"h":2},{"f2":0.93,"h":-1},{"f2":0.923,"h":5},{"f2":0.916,"h":73},{"f2":0.905,"h":12},{"f2":0.897,"h":83},{"f2":0.886,"h":12},{"f2":0.865,"h":7},{"f2":0.85,"h":2},{"f2":0.841,"h":42},{"f2":0.835,"h":18},{"f2":0.829,"h":44},{"f2":0.821,"h":5},{"f2":0.806,"h":2},{"f2":0.792,"h":6},{"f2":0.781,"h":2},{"f2":0.762,"h":12},{"f2":0.755,"h":8},{"f2":0.745,"h":12},{"f2":0.733,"h":2},{"f2":0.711,"h":1},{"f2":0.7,"h":82},{"f2":0.691,"h":17},{"f2":0.684,"h":83},{"f2":0.675,"h":8},{"f2":0.653,"h":4},{"f2":0.595,"h":1},{"f2":0.456,"h":0}
],"left":[
{"f1":0.288,"h":0.7},{"f1":0.446,"h":0.7},{"f1":0.563,"h":1.7},{"f1":0.633,"h":4},{"f1":0.662,"h":8.3},{"f1":0.676,"h":15},{"f1":0.683,"h":33},{"f1":0.687,"h":100},{"f1":0.694,"h":20.7},{"f1":0.702,"h":98.3},{"f1":0.707,"h":10},{"f1":0.711,"h":1.7},{"f1":0.721,"h":0.7},{"f1":0.738,"h":5},{"f1":0.748,"h":14.3},{"f1":0.756,"h":10},{"f1":0.765,"h":15},{"f1":0.773,"h":11.7},{"f1":0.785,"h":5},{"f1":0.797,"h":9.3},{"f1":0.808,"h":5},{"f1":0.82,"h":10},{"f1":0.826,"h":23.3},{"f1":0.832,"h":53.3},{"f1":0.837,"h":23.3},{"f1":0.844,"h":50.7},{"f1":0.847,"h":23.3},{"f1":0.852,"h":5},{"f1":0.867,"h":6.7},{"f1":0.879,"h":13.3},{"f1":0.887,"h":15},{"f1":0.894,"h":33},{"f1":0.9,"h":100},{"f1":0.908,"h":15},{"f1":0.917,"h":88.3},{"f1":0.923,"h":3.3},{"f1":0.931,"h":-1},{"f1":0.996,"h":0},{"f1":1.048,"h":2.7},{"f1":1.063,"h":6.7},{"f1":1.068,"h":30},{"f1":1.074,"h":76.7},{"f1":1.078,"h":23.3},{"f1":1.081,"h":4},{"f1":1.095,"h":0.7},{"f1":1.119,"h":6.7},{"f1":1.142,"h":3.3},{"f1":1.165,"h":8.3},{"f1":1.177,"h":2.7},{"f1":1.195,"h":1.7},{"f1":1.212,"h":10},{"f1":1.232,"h":16.7},{"f1":1.247,"h":10.7},{"f1":1.262,"h":16.7},{"f1":1.271,"h":23.3},{"f1":1.278,"h":88.3},{"f1":1.282,"h":13.3},{"f1":1.29,"h":1.7},{"f1":1.312,"h":5},{"f1":1.329,"h":3.3},{"f1":1.352,"h":7.3},{"f1":1.376,"h":4},{"f1":1.399,"h":0.7},{"f1":1.429,"h":5},{"f1":1.45,"h":16.7},{"f1":1.458,"h":11.7},{"f1":1.481,"h":8.3},{"f1":1.499,"h":3.3},{"f1":1.528,"h":0.7},{"f1":1.557,"h":1.7},{"f1":1.575,"h":13.3},{"f1":1.587,"h":8.3},{"f1":1.596,"h":21.7},{"f1":1.601,"h":10},{"f1":1.61,"h":13.3},{"f1":1.627,"h":3.3},{"f1":1.662,"h":1.7},{"f1":1.671,"h":6},{"f1":1.691,"h":0.7},{"f1":1.732,"h":0},{"f1":1.756,"h":7.3},{"f1":1.767,"h":1.7},{"f1":1.779,"h":7.3},{"f1":1.797,"h":0.7},{"f1":1.838,"h":0.7},{"f1":1.867,"h":6.7},{"f1":1.878,"h":5},{"f1":1.89,"h":12.7},{"f1":1.914,"h":0.7},{"f1":1.978,"h":0},{"f1":1.98,"h":4},{"f1":1.984,"h":-0.3},{"f1":2.107,"h":-1},{"f1":2.306,"h":0.7},{"f1":2.347,"h":3.3},{"f1":2.361,"h":24},{"f1":2.37,"h":2.7},{"f1":2.387,"h":5},{"f1":2.423,"h":4},{"f1":2.452,"h":10},{"f1":2.475,"h":18.3},{"f1":2.487,"h":43.3},{"f1":2.493,"h":130},{"f1":2.508,"h":130},{"f1":2.511,"h":1.7},{"f1":2.524,"h":-3.3},{"f1":2.575,"h":-2.7},{"f1":2.607,"h":0},{"f1":2.715,"h":0},{"f1":2.729,"h":9.3},{"f1":2.738,"h":3.3},{"f1":2.748,"h":9.3},{"f1":2.756,"h":0},{"f1":2.902,"h":-0.7}
],"marks":[
{"f2":5.156,"f1":1.9},{"f2":1.761,"f1":0.77},{"f2":0.828,"f1":1.25},{"f2":0.74,"f1":1.32},{"f2":1.117,"f1":1.59},{"f2":0.885,"f1":1.68},{"f2":0.79,"f1":1.77},{"f2":0.732,"f1":1.77},{"f2":1.362,"f1":2.5}
],"leaders":[
{"f2a":5.099,"f1a":1.853,"f2b":5.156,"f1b":1.9},{"f2a":1.822,"f1a":0.723,"f2b":1.761,"f1b":0.77},{"f2a":0.881,"f1a":1.21,"f2b":0.828,"f1b":1.25},{"f2a":1.165,"f1a":1.551,"f2b":1.117,"f1b":1.59},{"f2a":0.836,"f1a":1.81,"f2b":0.79,"f1b":1.77},{"f2a":1.419,"f1a":2.446,"f2b":1.362,"f1b":2.5}
],"labels":[
{"f2":4.85,"f1":1.807,"t":"{5.16,1.90}"},{"f2":2.081,"f1":0.688,"t":"{1.76,0.77}"},{"f2":1.148,"f1":1.165,"t":"{0.83,1.25}"},{"f2":1.437,"f1":1.505,"t":"{1.12,1.59}"},{"f2":1.108,"f1":1.867,"t":"{0.79,1.77}"},{"f2":1.682,"f1":2.411,"t":"{1.37,2.50}"}
]},
"hconcat":[
{"width":140,"height":885,"data":{"name":"left"},"mark":{"type":"line","color":"#8b1a1a","strokeWidth":1,"clip":true},"encoding":{"x":{"field":"h","type":"quantitative","scale":{"domain":[118,-22],"nice":false,"zero":false},"axis":null},"y":{"field":"f1","type":"quantitative","scale":{"domain":[2.902,-0.2035],"nice":false,"zero":false},"axis":null},"order":{"value":null}}},
{"spacing":17,"bounds":"flush","vconcat":[
{"width":1114,"height":123,"data":{"name":"top"},"mark":{"type":"line","color":"#8b1a1a","strokeWidth":1,"clip":true},"encoding":{"x":{"field":"f2","type":"quantitative","scale":{"domain":[5.331,0.451],"nice":false,"zero":false},"axis":null},"y":{"field":"h","type":"quantitative","scale":{"domain":[-4,119],"nice":false,"zero":false},"axis":null},"order":{"value":null}}},
{"width":1114,"height":745,"view":{"stroke":"#cccccc","strokeWidth":1.5},"resolve":{"axis":{"x":"independent","y":"independent"}},"layer":[
{"data":{"name":"contours"},"mark":{"type":"line","color":"#ff0000","strokeWidth":1,"opacity":0.85,"interpolate":"cardinal-closed","tension":-0.66,"clip":true},"encoding":{"x":{"field":"f2","type":"quantitative","scale":{"domain":[5.331,0.451],"nice":false,"zero":false},"axis":{"orient":"bottom","values":[5.2,5,4.8,4.6,4.4,4.2,4,3.8,3.6,3.4,3.2,3,2.8,2.6,2.4,2.2,2,1.8,1.6,1.4,1.2,1,0.8,0.6],"format":".1f","title":"f2 (ppm)","titleFontSize":14,"titleFontWeight":"normal","titleColor":"#333333","titlePadding":4,"labelFontSize":14,"labelColor":"#333333","labelPadding":3,"tickSize":7,"tickColor":"#444444","domainColor":"#444444","domainWidth":1.5,"offset":7,"grid":true,"gridColor":"#d6d6d6","gridWidth":1.5}},"y":{"field":"f1","type":"quantitative","scale":{"domain":[2.902,0.288],"nice":false,"zero":false},"axis":{"orient":"right","values":[0.4,0.6,0.8,1,1.2,1.4,1.6,1.8,2,2.2,2.4,2.6,2.8],"format":".1f","title":"f1 (ppm)","titleFontSize":14,"titleFontWeight":"normal","titleColor":"#333333","titleAngle":270,"titlePadding":55,"labelFontSize":14,"labelColor":"#333333","labelPadding":1,"tickSize":7,"tickColor":"#444444","domainColor":"#666666","domainWidth":2,"offset":6,"grid":true,"gridColor":"#d6d6d6","gridWidth":1.5}},"detail":{"field":"g","type":"nominal"},"order":{"value":null}}},
{"data":{"name":"leaders"},"mark":{"type":"rule","color":"#2f3f8f","strokeWidth":1},"encoding":{"x":{"field":"f2a","type":"quantitative","axis":null},"x2":{"field":"f2b"},"y":{"field":"f1a","type":"quantitative","axis":null},"y2":{"field":"f1b"}}},
{"data":{"name":"marks"},"mark":{"type":"point","shape":"M-1,0L1,0M0,-1L0,1","size":100,"color":"#2f3f8f","strokeWidth":1,"opacity":1},"encoding":{"x":{"field":"f2","type":"quantitative","axis":{"orient":"bottom","values":[5.3,5.1,4.9,4.7,4.5,4.3,4.1,3.9,3.7,3.5,3.3,3.1,2.9,2.7,2.5,2.3,2.1,1.9,1.7,1.5,1.3,1.1,0.9,0.7,0.5],"labels":false,"domain":false,"grid":false,"title":null,"tickSize":3,"tickColor":"#444444","offset":7}},"y":{"field":"f1","type":"quantitative","axis":{"orient":"right","values":[2.9],"labels":false,"domain":false,"grid":false,"title":null,"tickSize":3,"tickColor":"#444444","offset":6}}}},
{"data":{"name":"labels"},"mark":{"type":"text","color":"#00008b","fontSize":24,"font":"Noto Sans","align":"center","baseline":"middle"},"encoding":{"x":{"field":"f2","type":"quantitative","axis":null},"y":{"field":"f1","type":"quantitative","axis":null},"text":{"field":"t"}}}
]}
]}
]}
